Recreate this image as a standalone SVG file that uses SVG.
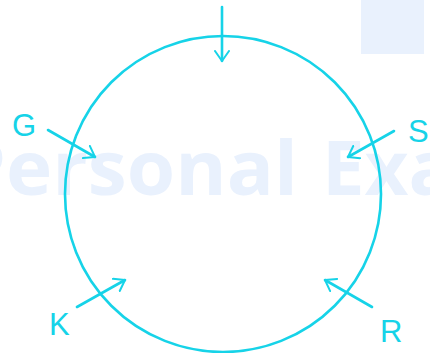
<svg xmlns="http://www.w3.org/2000/svg" width="430" height="353" viewBox="0 0 430 353">
<style>
.wm{fill:#e9f1fd;font-family:"Open Sans","Liberation Sans",sans-serif;font-weight:bold;font-size:76px}
.lbl{fill:#16d3e8;font-family:"Liberation Sans",Arial,sans-serif;font-size:31px}
.ln{stroke:#16d3e8;stroke-width:2.6;fill:none;stroke-linecap:round}
</style>
<defs>
<marker id="ah" viewBox="0 0 12 16" refX="11" refY="8" markerWidth="12" markerHeight="16" markerUnits="userSpaceOnUse" orient="auto">
<path d="M1,1 L11,8 L1,15" fill="none" stroke="#16d3e8" stroke-width="2" stroke-linecap="round" stroke-linejoin="round"/>
</marker>
</defs>
<rect x="361" y="0" width="63" height="54" fill="#e9f1fd"/>
<text class="wm" y="195"><tspan x="-42">P</tspan><tspan x="6" textLength="292" lengthAdjust="spacingAndGlyphs">ersonal</tspan><tspan x="322">Exa</tspan></text>
<g id="circle"><circle cx="223" cy="194" r="158" class="ln"/></g>
<g id="connectors">
<line x1="222" y1="7" x2="222" y2="61" class="ln" marker-end="url(#ah)"/>
<line x1="48" y1="130" x2="95" y2="157" class="ln" marker-end="url(#ah)"/>
<line x1="394" y1="131" x2="348" y2="157" class="ln" marker-end="url(#ah)"/>
<line x1="77" y1="307" x2="125" y2="280" class="ln" marker-end="url(#ah)"/>
<line x1="372" y1="307" x2="325" y2="280" class="ln" marker-end="url(#ah)"/>
</g>
<g id="G"><text class="lbl" x="12" y="136">G</text></g>
<g id="S"><text class="lbl" x="408" y="142">S</text></g>
<g id="K"><text class="lbl" x="49" y="335">K</text></g>
<g id="R"><text class="lbl" x="380" y="342">R</text></g>
</svg>
